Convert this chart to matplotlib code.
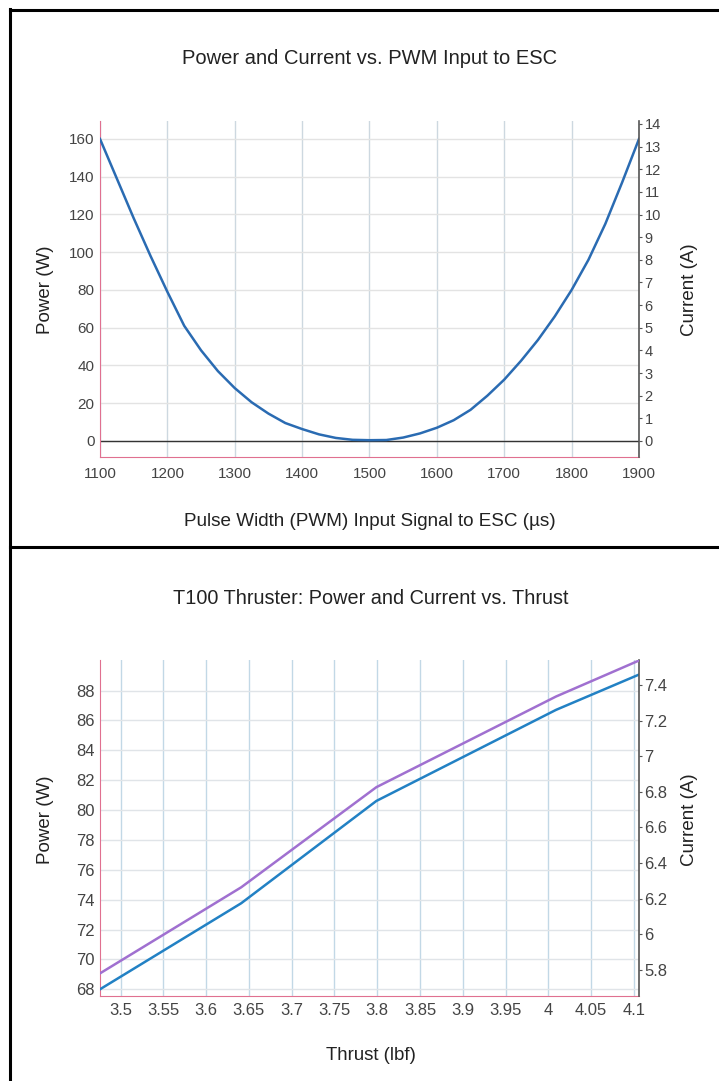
# imports
import numpy as np
import matplotlib.pyplot as plt
import matplotlib as mpl
from matplotlib.lines import Line2D

mpl.rcParams.update({'font.size': 10, 'font.family': ['Liberation Sans', 'DejaVu Sans']})

# ---- data: top chart (power vs PWM) ----
pwm_us = [1100, 1125, 1150, 1175, 1200, 1225, 1250, 1275, 1300, 1325, 1350, 1375, 1400,
          1425, 1450, 1475, 1500, 1525, 1550, 1575, 1600, 1625, 1650, 1675, 1700, 1725,
          1750, 1775, 1800, 1825, 1850, 1875, 1900]
power_pwm_w = [160, 139, 118, 98, 79, 61, 48, 37, 28, 20.5, 14.5, 9.5, 6.3,
               3.5, 1.6, 0.6, 0.4, 0.5, 1.8, 4, 7, 11, 16.5, 24, 32.5, 42.5,
               53.5, 66, 80, 96, 115, 137, 160]

# ---- data: bottom chart (power / current vs thrust) ----
thrust_lbf = [3.476, 3.641, 3.799, 4.009, 4.105]
power_thrust_w = [68.0, 73.76, 80.61, 86.71, 89.05]
current_thrust_a = [5.781, 6.264, 6.826, 7.335, 7.535]

# tick labels
pwm_ticks = [1100, 1200, 1300, 1400, 1500, 1600, 1700, 1800, 1900]
power_ticks_top = [0, 20, 40, 60, 80, 100, 120, 140, 160]
current_ticks_top = list(range(0, 15))
thrust_ticks = [3.5, 3.55, 3.6, 3.65, 3.7, 3.75, 3.8, 3.85, 3.9, 3.95, 4, 4.05, 4.1]
thrust_tick_labels = ['3.5', '3.55', '3.6', '3.65', '3.7', '3.75', '3.8', '3.85', '3.9',
                      '3.95', '4', '4.05', '4.1']
power_ticks_bot = [68, 70, 72, 74, 76, 78, 80, 82, 84, 86, 88]
current_ticks_bot = [5.8, 6, 6.2, 6.4, 6.6, 6.8, 7, 7.2, 7.4]
current_tick_labels_bot = ['5.8', '6', '6.2', '6.4', '6.6', '6.8', '7', '7.2', '7.4']

W, H = 719, 1081
TXT = '#444444'
LBL = '#222222'
PINK = '#e07090'


def fx(px):
    return px / W


def fy(py):
    return 1 - py / H


def style_axes(ax, ax2, vgrid, hgrid, tick_size, right_size):
    """
    pink left/bottom spines, dark right spine, light grid
    """
    ax.spines['top'].set_visible(False)
    ax2.spines['top'].set_visible(False)
    ax.spines['left'].set_color(PINK)
    ax.spines['bottom'].set_color(PINK)
    ax.spines['right'].set_visible(False)
    ax2.spines['left'].set_visible(False)
    ax2.spines['bottom'].set_visible(False)
    ax2.spines['right'].set_color('#555555')
    ax2.spines['right'].set_linewidth(1.2)
    ax.tick_params(axis='both', length=0, colors=TXT, labelsize=tick_size)
    ax.tick_params(axis='y', pad=4)
    ax.tick_params(axis='x', pad=7)
    ax2.tick_params(axis='y', length=2, color='#555555', labelcolor=TXT,
                    labelsize=right_size, pad=2)
    ax.xaxis.grid(True, color=vgrid, linewidth=1)
    ax.yaxis.grid(True, color=hgrid, linewidth=1)
    ax.set_axisbelow(True)


fig = plt.figure(figsize=(W / 100, H / 100), dpi=100)

# ---------- top chart ----------
ax = fig.add_axes([fx(100), fy(457), fx(539), (457 - 121) / H])
ax2 = ax.twinx()
ax.plot(pwm_us, power_pwm_w, color='#2a6bb2', linewidth=1.8, zorder=3)
ax.axhline(0, color='#333333', linewidth=1, zorder=2)
ax.set_xlim(1100, 1900)
ax.set_ylim(-8.5, 169.5)
ax2.set_ylim(-0.707, 14.13)
ax.set_xticks(pwm_ticks)
ax.set_yticks(power_ticks_top)
ax2.set_yticks(current_ticks_top)
style_axes(ax, ax2, '#cdd8e0', '#e3e3e3', 11, 10.5)

# ---------- bottom chart ----------
bx = fig.add_axes([fx(100), fy(996), fx(539), (996 - 660) / H])
bx2 = bx.twinx()
bx.plot(thrust_lbf, power_thrust_w, color='#2281c4', linewidth=1.8, zorder=3)
bx2.plot(thrust_lbf, current_thrust_a, color='#a070d0', linewidth=1.8, zorder=3)
bx.set_xlim(3.476, 4.106)
bx.set_ylim(67.55, 90.05)
bx2.set_ylim(5.654, 7.54)
bx.set_xticks(thrust_ticks)
bx.set_xticklabels(thrust_tick_labels)
bx.set_yticks(power_ticks_bot)
bx2.set_yticks(current_ticks_bot)
bx2.set_yticklabels(current_tick_labels_bot)
style_axes(bx, bx2, '#c2d8e6', '#e0e4e8', 12, 12)
bx.tick_params(axis='x', pad=5)

# titles and axis labels as figure text
fig.text(fx(370), fy(58), 'Power and Current vs. PWM Input to ESC', ha='center', va='center',
         fontsize=14.5, color=LBL)
fig.text(fx(370), fy(521), 'Pulse Width (PWM) Input Signal to ESC (\u00b5s)', ha='center',
         va='center', fontsize=13.6, color=LBL)
fig.text(fx(45), fy(290), 'Power (W)', rotation=90, ha='center', va='center', fontsize=13.5,
         color=LBL)
fig.text(fx(690), fy(290), 'Current (A)', rotation=90, ha='center', va='center', fontsize=13.5,
         color=LBL)

fig.text(fx(371), fy(598), 'T100 Thruster: Power and Current vs. Thrust', ha='center',
         va='center', fontsize=14.3, color=LBL)
fig.text(fx(371), fy(1055), 'Thrust (lbf)', ha='center', va='center', fontsize=13.4,
         color=LBL)
fig.text(fx(45), fy(820), 'Power (W)', rotation=90, ha='center', va='center', fontsize=13.5,
         color=LBL)
fig.text(fx(690), fy(820), 'Current (A)', rotation=90, ha='center', va='center', fontsize=13.5,
         color=LBL)

# black frame: left border, top border, divider between the charts
fig.add_artist(Line2D([fx(10), fx(10)], [fy(9), 0], color='black', linewidth=2.2))
fig.add_artist(Line2D([fx(10), 1], [fy(10), fy(10)], color='black', linewidth=2.2))
fig.add_artist(Line2D([fx(10), 1], [fy(547), fy(547)], color='black', linewidth=2.2))

plt.savefig('out.png', dpi=100)
